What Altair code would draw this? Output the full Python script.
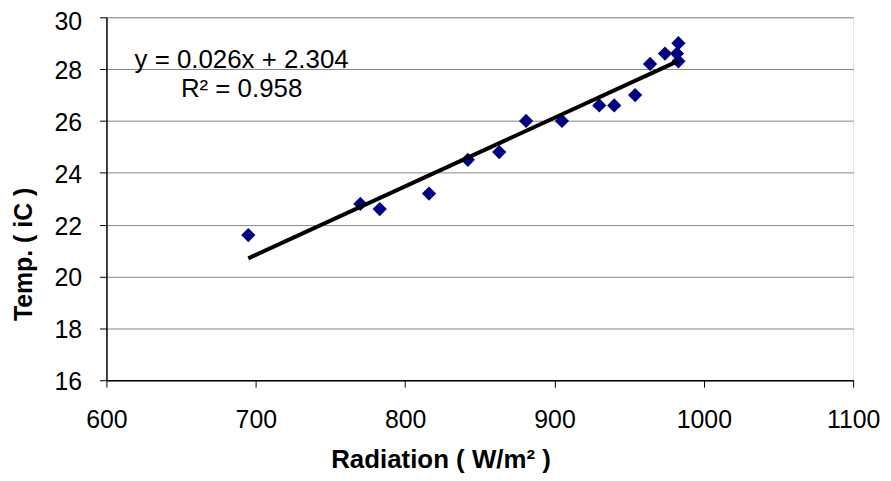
import altair as alt
import pandas as pd

radiation = [695, 770, 783, 816, 842, 863, 881, 905, 930, 940, 954, 964, 974, 983, 982, 983]
temp = [21.6, 22.8, 22.6, 23.2, 24.5, 24.8, 26.0, 26.0, 26.6, 26.6, 27.0, 28.2, 28.6, 29.0, 28.6, 28.3]

eq_lines = ["y = 0.026x + 2.304", "R² = 0.958"]
eq_x = [690.5, 690.5]
eq_y = [28.06, 26.93]

x_ticks = [600, 700, 800, 900, 1000, 1100]
y_ticks = [16, 18, 20, 22, 24, 26, 28, 30]

df = pd.DataFrame({"radiation": radiation, "temp": temp})
ann = pd.DataFrame({"label": eq_lines, "x": eq_x, "y": eq_y})

FONT = "Liberation Sans"
FS = 25

xenc = alt.X(
    "radiation:Q",
    scale=alt.Scale(domain=[600, 1100], nice=False, zero=False),
    axis=alt.Axis(
        values=x_ticks, format="d", title="Radiation ( W/m² )", grid=False,
        domainColor="black", domainWidth=1.5, tickColor="black", tickSize=7,
        labelFont=FONT, labelFontSize=FS, labelColor="black",
        labelBaseline="alphabetic", labelPadding=41,
        titleFont=FONT, titleFontSize=26, titleFontWeight="bold", titleColor="black",
        titleBaseline="alphabetic", titleX=336, titleY=88, titleAlign="center",
        labelFlush=False,
    ),
)
yenc = alt.Y(
    "temp:Q",
    scale=alt.Scale(domain=[16, 30], nice=False, zero=False),
    axis=alt.Axis(
        values=y_ticks, format="d", title="Temp. ( iC )", grid=True, gridColor="#868686", gridWidth=1,
        domainColor="black", domainWidth=1.5, tickColor="black", tickSize=7,
        labelFont=FONT, labelFontSize=FS, labelColor="black", labelPadding=18,
        labelFlush=False,
        labelOffset={"condition": {"test": "datum.value == 30", "value": 4}, "value": 1.5},
        titleFont=FONT, titleFontSize=FS, titleFontWeight="bold", titleColor="black",
        titleAngle=-90, titleBaseline="alphabetic", titleX=-75, titleY=238, titleAlign="center",
    ),
)

base = alt.Chart(df)

points = base.mark_point(shape="diamond", filled=True, size=205, color="#000080", opacity=1).encode(
    x=xenc, y=yenc
)

trend = base.transform_regression("radiation", "temp").mark_line(
    color="black", strokeWidth=4
).encode(x="radiation:Q", y="temp:Q")

text = alt.Chart(ann).mark_text(
    font=FONT, fontSize=26, align="center", baseline="alphabetic", color="black"
).encode(x="x:Q", y="y:Q", text="label:N")

chart = (
    alt.layer(points, trend, text)
    .properties(
        width=751, height=365,
        autosize=alt.AutoSizeParams(type="none"),
        padding={"left": 99, "top": 8, "right": 30, "bottom": 92},
    )
    .configure_view(stroke="#888888", strokeWidth=1.5)
    .configure(background="white")
)

chart.save("out.html", embed_options={"renderer": "svg", "actions": False})
